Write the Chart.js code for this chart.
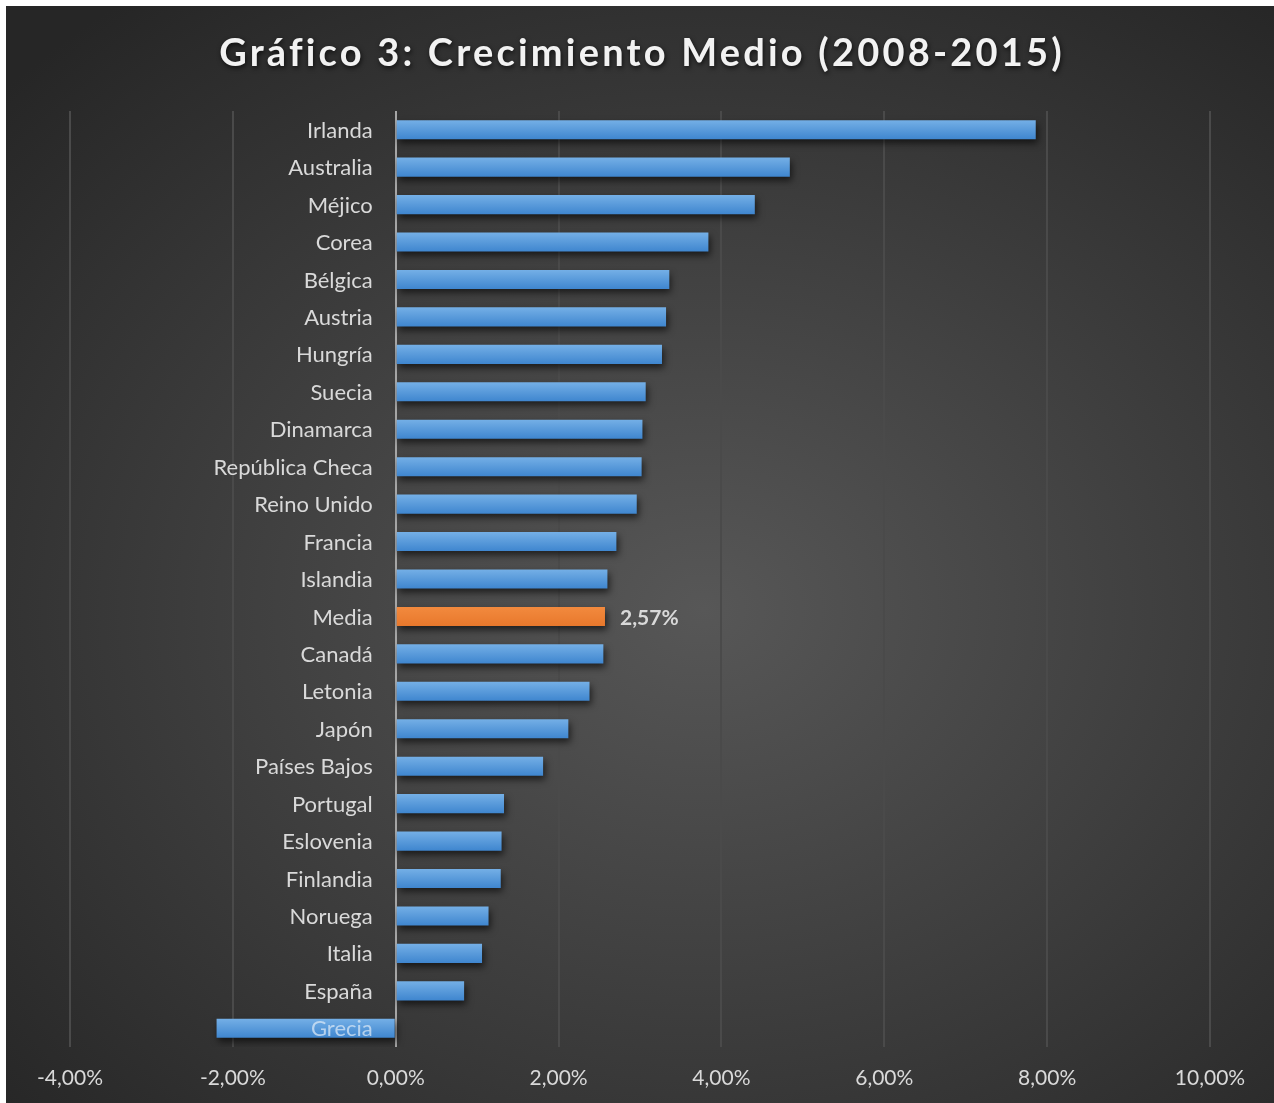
<!DOCTYPE html>
<html>
<head>
<meta charset="utf-8">
<script src="https://cdn.jsdelivr.net/npm/chart.js@4/dist/chart.umd.min.js"></script>
<style>
  html, body { margin: 0; padding: 0; background: #ffffff; }
  #wrap {
    position: absolute; left: 6px; top: 6px; width: 1268px; height: 1097px;
    background: radial-gradient(ellipse 75% 70% at 55% 55%, #575757 0%, #3c3c3c 55%, #262626 100%);
  }
  canvas { display: block; }
</style>
</head>
<body>
<div id="wrap"><canvas id="c" width="1268" height="1097"></canvas></div>
<script>
// Average annual growth 2008-2015, per country (percent)
const categories = [
  'Irlanda', 'Australia', 'Méjico', 'Corea', 'Bélgica', 'Austria', 'Hungría',
  'Suecia', 'Dinamarca', 'República Checa', 'Reino Unido', 'Francia', 'Islandia',
  'Media', 'Canadá', 'Letonia', 'Japón', 'Países Bajos', 'Portugal', 'Eslovenia',
  'Finlandia', 'Noruega', 'Italia', 'España', 'Grecia'
];
const growth = [
  7.86, 4.84, 4.41, 3.84, 3.36, 3.32, 3.27,
  3.07, 3.03, 3.02, 2.96, 2.71, 2.60,
  2.57, 2.55, 2.38, 2.12, 1.81, 1.33, 1.30,
  1.29, 1.14, 1.06, 0.84, -2.20
];
const xTicks = [-4, -2, 0, 2, 4, 6, 8, 10];
const highlight = 'Media';
const titleText = 'Gráfico 3: Crecimiento Medio (2008-2015)';

const FONT = 'Lato, "Open Sans", sans-serif';
const fmtPct = v => v.toFixed(2).replace('.', ',') + '%';

function barFill(ctx) {
  const chart = ctx.chart;
  const area = chart.chartArea;
  if (!area || ctx.type !== 'data') return '#5b9bd5';
  const isHi = categories[ctx.dataIndex] === highlight;
  const y = chart.scales.y.getPixelForValue(ctx.dataIndex);
  const h = 19;
  const g = chart.ctx.createLinearGradient(0, y - h / 2, 0, y + h / 2);
  if (isHi) {
    g.addColorStop(0, '#f28a3e');
    g.addColorStop(1, '#e8782c');
  } else {
    g.addColorStop(0, '#74afe6');
    g.addColorStop(1, '#3f86cf');
  }
  return g;
}

// Drop shadow under the bars
const barShadow = {
  id: 'barShadow',
  beforeDatasetsDraw(chart) {
    const c = chart.ctx;
    c.save();
    c.shadowColor = 'rgba(0,0,0,0.6)';
    c.shadowBlur = 7;
    c.shadowOffsetX = 2;
    c.shadowOffsetY = 4;
  },
  afterDatasetsDraw(chart) { chart.ctx.restore(); }
};

// Category names to the left of the zero line
const categoryLabels = {
  id: 'categoryLabels',
  afterDatasetsDraw(chart) {
    const c = chart.ctx;
    const xs = chart.scales.x, ys = chart.scales.y;
    const x0 = xs.getPixelForValue(0) - 23;
    c.save();
    c.font = '22px ' + FONT;
    c.textAlign = 'right';
    c.textBaseline = 'middle';
    categories.forEach((name, i) => {
      const overBar = growth[i] < 0;
      c.fillStyle = overBar ? 'rgba(222,234,247,0.72)' : '#d9d9d9';
      c.fillText(name, x0, ys.getPixelForValue(i) + 1);
    });
    c.restore();
  }
};

// Value label on the highlighted bar
const valueLabel = {
  id: 'valueLabel',
  afterDatasetsDraw(chart) {
    const i = categories.indexOf(highlight);
    if (i < 0) return;
    const c = chart.ctx;
    const x = chart.scales.x.getPixelForValue(growth[i]) + 15;
    const y = chart.scales.y.getPixelForValue(i) + 2;
    c.save();
    c.font = 'bold 21px ' + FONT;
    c.fillStyle = '#d9d9d9';
    c.textAlign = 'left';
    c.textBaseline = 'middle';
    c.fillText(fmtPct(growth[i]), x, y);
    c.restore();
  }
};

// Chart title with shadow and letter spacing
const titlePlugin = {
  id: 'bigTitle',
  afterDraw(chart) {
    const c = chart.ctx;
    c.save();
    c.font = 'bold 38px ' + FONT;
    c.letterSpacing = '3.2px';
    c.textAlign = 'center';
    c.textBaseline = 'middle';
    c.shadowColor = 'rgba(0,0,0,0.7)';
    c.shadowBlur = 5;
    c.shadowOffsetX = 1;
    c.shadowOffsetY = 2;
    c.fillStyle = '#f2f2f2';
    c.fillText(titleText, chart.width / 2 + 2, 48);
    c.restore();
  }
};

new Chart(document.getElementById('c'), {
  type: 'bar',
  data: {
    labels: categories,
    datasets: [{
      data: growth,
      backgroundColor: barFill,
      borderWidth: 0,
      categoryPercentage: 1,
      barPercentage: 0.51
    }]
  },
  options: {
    indexAxis: 'y',
    responsive: false,
    animation: false,
    layout: { padding: { left: 64, right: 64, top: 105, bottom: 0 } },
    plugins: {
      legend: { display: false },
      title: { display: false },
      tooltip: { enabled: false }
    },
    scales: {
      x: {
        type: 'linear',
        min: -4,
        max: 10,
        afterBuildTicks(scale) { scale.ticks = xTicks.map(v => ({ value: v })); },
        afterFit(scale) { scale.height = 56; },
        ticks: {
          color: '#d9d9d9',
          font: { family: FONT, size: 21 },
          padding: 19,
          callback: v => fmtPct(v)
        },
        grid: {
          drawTicks: false,
          lineWidth: 2,
          color: ctx => (ctx.tick && ctx.tick.value === 0) ? '#a6a6a6' : '#4a4a4a'
        },
        border: { display: false }
      },
      y: {
        display: false
      }
    }
  },
  plugins: [barShadow, categoryLabels, valueLabel, titlePlugin]
});
</script>
</body>
</html>
